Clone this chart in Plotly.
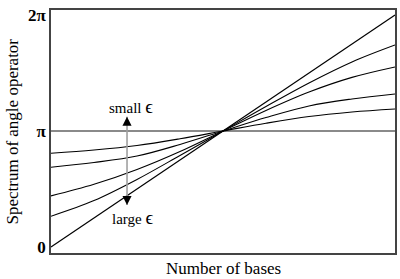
import plotly.graph_objects as go

# Number of bases (arbitrary units, no tick labels in the original)
x_pts = [0, 1.25, 2.5, 3.75, 5, 6.25, 7.5, 8.75, 10]

# Spectrum of angle operator, in units of pi
curve_a = [0.265, 0.400, 0.582, 0.789, 1.0, 1.211, 1.414, 1.595, 1.741]
curve_b = [0.440, 0.540, 0.668, 0.823, 1.0, 1.177, 1.336, 1.462, 1.552]
curve_c = [0.687, 0.728, 0.784, 0.884, 1.0, 1.116, 1.216, 1.276, 1.319]
curve_d = [0.808, 0.836, 0.875, 0.933, 1.0, 1.067, 1.125, 1.164, 1.190]

diag_x = [0, 10]
diag_y = [0, 2]
flat_x = [0, 10]
flat_y = [1, 1]

y_ticks = [0, 1, 2]
y_ticktext = ["<b>0</b>", "<b>π</b>", "<b>2π</b>"]

SERIF = "Liberation Serif"

fig = go.Figure()

fig.add_trace(go.Scatter(x=flat_x, y=flat_y, mode="lines",
                         line=dict(color="#8a8a8a", width=2.2), hoverinfo="skip"))
for c in [curve_a, curve_b, curve_c, curve_d]:
    fig.add_trace(go.Scatter(x=x_pts, y=c, mode="lines",
                             line=dict(color="black", width=1.1, shape="spline", smoothing=1.0),
                             hoverinfo="skip"))
fig.add_trace(go.Scatter(x=diag_x, y=diag_y, mode="lines",
                         line=dict(color="black", width=1.1), hoverinfo="skip"))

# Arrow: gray shaft with black heads
arrow_x = 2.21
arrow_top = 1.123
arrow_bottom = 0.362
fig.add_shape(type="line", x0=arrow_x, x1=arrow_x, y0=arrow_bottom, y1=arrow_top,
              line=dict(color="#a0a0a0", width=1.6), layer="above")
fig.add_annotation(x=arrow_x, y=arrow_top, ax=arrow_x, ay=arrow_top - 0.08,
                   xref="x", yref="y", axref="x", ayref="y", text="",
                   showarrow=True, arrowhead=2, arrowsize=1.3, arrowwidth=1.4,
                   arrowcolor="black")
fig.add_annotation(x=arrow_x, y=arrow_bottom, ax=arrow_x, ay=arrow_bottom + 0.08,
                   xref="x", yref="y", axref="x", ayref="y", text="",
                   showarrow=True, arrowhead=2, arrowsize=1.3, arrowwidth=1.4,
                   arrowcolor="black")

fig.add_annotation(x=2.33, y=1.215, xref="x", yref="y", showarrow=False,
                   text="small <span style='font-size:19px'>ϵ</span>",
                   font=dict(family=SERIF, size=15, color="black"))
fig.add_annotation(x=2.38, y=0.25, xref="x", yref="y", showarrow=False,
                   text="large <span style='font-size:19px'>ϵ</span>",
                   font=dict(family=SERIF, size=15, color="black"))

# Axis titles
fig.add_annotation(x=0.5, y=0, xref="paper", yref="paper", yshift=-15,
                   xanchor="center", yanchor="middle", showarrow=False,
                   text="Number of bases", font=dict(family=SERIF, size=17, color="black"))
fig.add_annotation(x=0, y=0.5, xref="paper", yref="paper", xshift=-39,
                   xanchor="center", yanchor="middle", showarrow=False, textangle=-90,
                   text="Spectrum of angle operator", font=dict(family=SERIF, size=17, color="black"))

fig.update_layout(
    width=400, height=279,
    margin=dict(l=51, r=5, t=10, b=26, autoexpand=False),
    paper_bgcolor="white", plot_bgcolor="white",
    showlegend=False,
    font=dict(family=SERIF, color="black"),
)
fig.update_xaxes(range=[0, 10], showgrid=False, zeroline=False, showticklabels=False,
                 ticks="", showline=True, mirror=True, linecolor="#444444", linewidth=1.5,
                 automargin=False)
fig.update_yaxes(range=[-0.052, 2.043], showgrid=False, zeroline=False,
                 tickvals=y_ticks, ticktext=y_ticktext, ticks="",
                 tickfont=dict(size=17, family=SERIF, color="black"),
                 showline=True, mirror=True, linecolor="#444444", linewidth=1.5,
                 automargin=False)

fig.write_html("out.html", config={"displayModeBar": False},
               post_script="document.body.style.margin='0';document.body.style.overflow='hidden';")
